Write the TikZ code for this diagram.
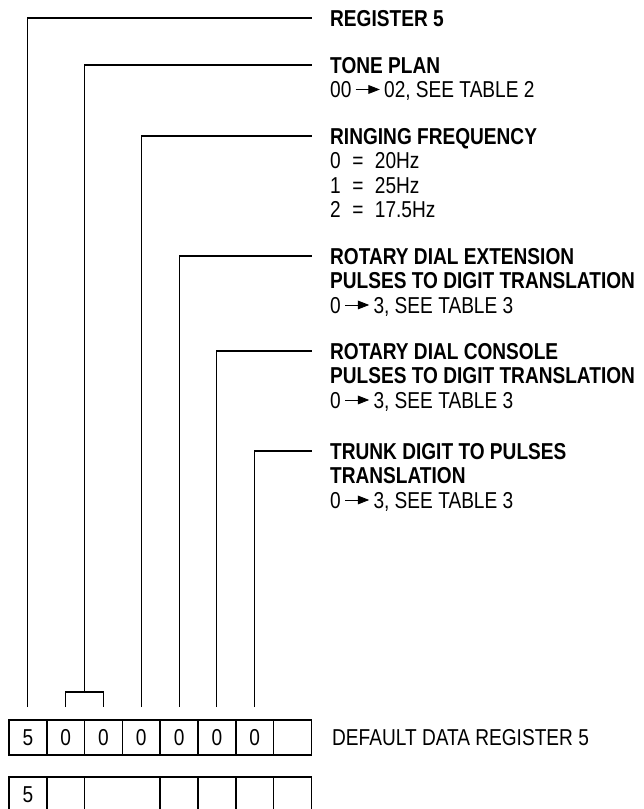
\documentclass[tikz,border=0pt]{standalone}
\usepackage{fontspec}
\setmainfont{Liberation Sans}[FakeStretch=0.83]
\usepackage{tikz}
\usetikzlibrary{arrows.meta, positioning, calc}

% short arrow with a filled head, as in the range texts
\newcommand{\rangearrow}{\,\tikz[x=1em,y=1em,baseline=0pt]
  \draw[line width=0.9pt, -{Triangle[length=0.5em,width=0.38em]}] (0,0.36) -- (1.05,0.36);\,}

\begin{document}
\begin{tikzpicture}[
  x=1pt, y=-1pt,
  lbl/.style={anchor=north west, inner sep=0pt, align=left,
              font=\fontsize{23}{24.5}\selectfont},
  cell/.style={rectangle, draw, line width=1.6pt, inner sep=0pt, outer sep=0pt,
               minimum width=37.8pt, minimum height=35pt,
               font=\fontsize{23}{24.5}\selectfont},
  blank/.style={cell, draw=none},
  lead/.style={line width=1.1pt}
]
  \useasboundingbox (0,0) rectangle (643,809);
  \clip (0,0) rectangle (643,809);

  % labels
  \node[lbl] (reg5) at (330,10) {\textbf{REGISTER 5}};
  \node[lbl] (tone) at (330,57) {\textbf{TONE PLAN}\\00\rangearrow02, SEE TABLE 2};
  \node[lbl] (ring) at (330,128)
    {\textbf{RINGING FREQUENCY}\\0\enspace=\enspace20Hz\\1\enspace=\enspace25Hz\\2\enspace=\enspace17.5Hz};
  \node[lbl] (rotext) at (330,248)
    {\textbf{ROTARY DIAL EXTENSION}\\\textbf{PULSES TO DIGIT TRANSLATION}\\0\rangearrow3, SEE TABLE 3};
  \node[lbl] (rotcon) at (330,343)
    {\textbf{ROTARY DIAL CONSOLE}\\\textbf{PULSES TO DIGIT TRANSLATION}\\0\rangearrow3, SEE TABLE 3};
  \node[lbl] (trunk) at (330,443)
    {\textbf{TRUNK DIGIT TO PULSES}\\\textbf{TRANSLATION}\\0\rangearrow3, SEE TABLE 3};

  % register rows
  \foreach \v [count=\i] in {5,0,0,0,0,0,0,{}}
    \node[cell] (c\i) at ({9+37.8*(\i-0.5)},737.5) {\v};
  \foreach \v [count=\i] in {5,{},{},{},{},{},{},{}}
    \node[blank] (d\i) at ({9+37.8*(\i-0.5)},794.5) {\v};
  \draw[line width=1.6pt] (d1.south west) |- (d8.north east) -- (d8.south east);
  \foreach \i in {1,2,4,5,6,7}
    \draw[line width=1.6pt] (d\i.north east) -- (d\i.south east);

  \node[right=20.6pt of c8, inner sep=0pt, font=\fontsize{23}{24.5}\selectfont] (dflt)
    {DEFAULT DATA REGISTER 5};

  % leaders
  \draw[lead] ([yshift=13pt]c1.north) |- ([xshift=-18pt,yshift=-8pt]reg5.north west);
  \draw[lead] ([yshift=13pt]c2.north) |- ([yshift=28pt]c2.north east) -| ([yshift=13pt]c3.north);
  \draw[lead] ([yshift=28pt]c2.north east) |- ([xshift=-18pt,yshift=-8pt]tone.north west);
  \draw[lead] ([yshift=13pt]c4.north) |- ([xshift=-18pt,yshift=-8pt]ring.north west);
  \draw[lead] ([yshift=13pt]c5.north) |- ([xshift=-18pt,yshift=-8pt]rotext.north west);
  \draw[lead] ([yshift=13pt]c6.north) |- ([xshift=-18pt,yshift=-8pt]rotcon.north west);
  \draw[lead] ([yshift=13pt]c7.north) |- ([xshift=-18pt,yshift=-8pt]trunk.north west);
\end{tikzpicture}
\end{document}
